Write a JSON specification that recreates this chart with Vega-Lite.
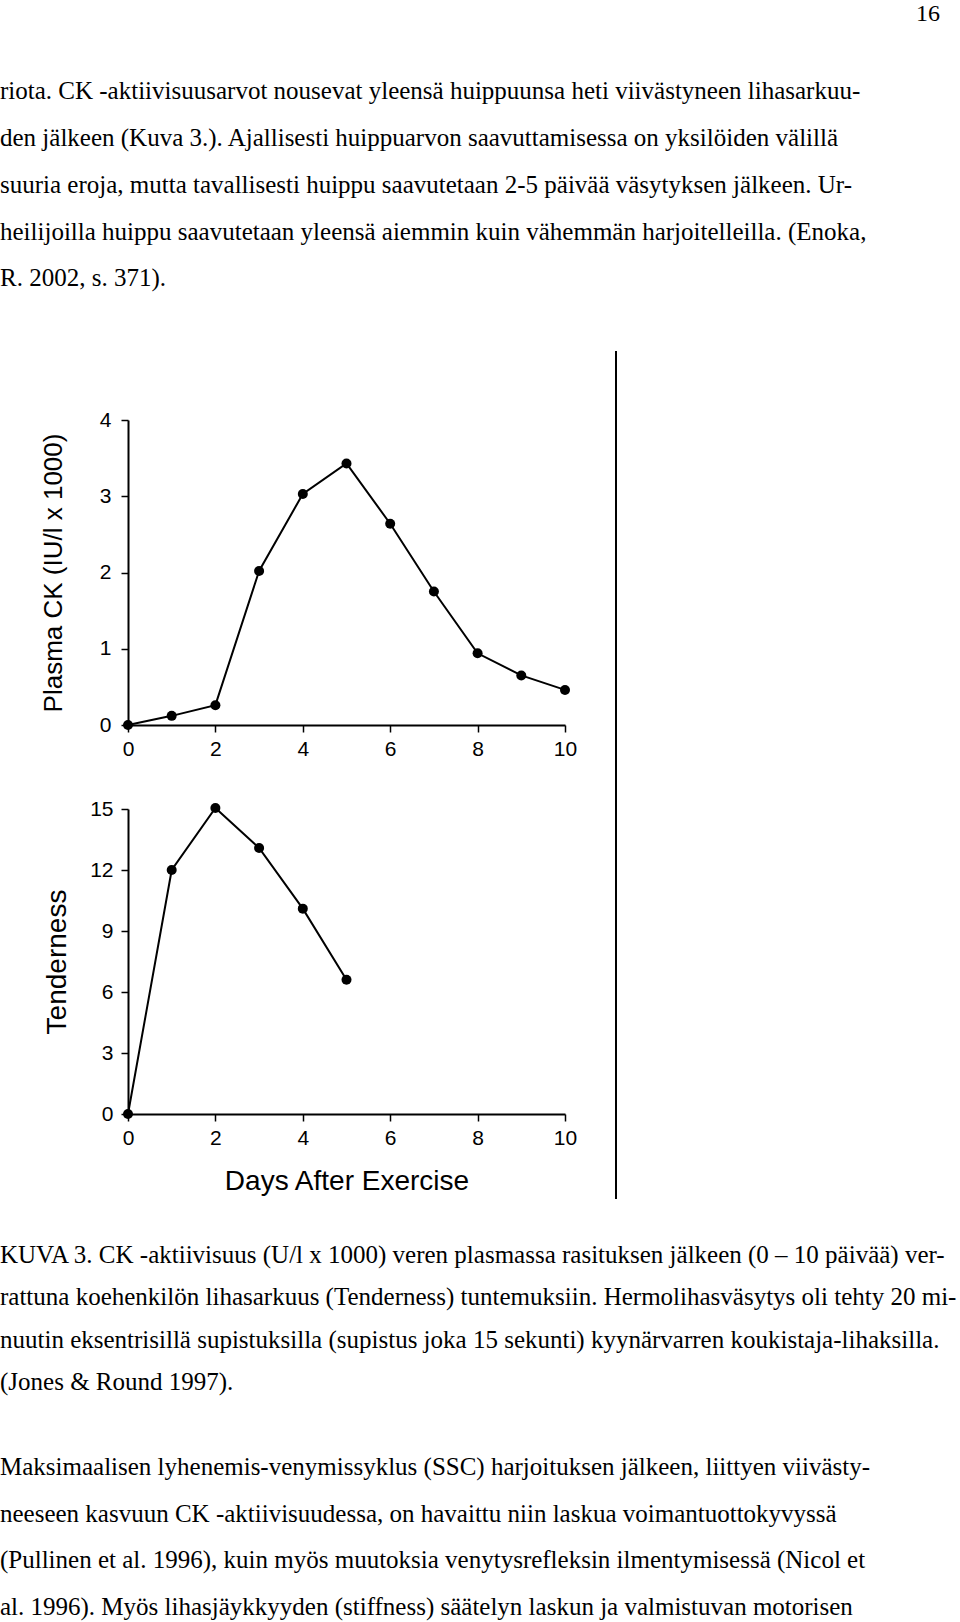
{
  "$schema": "https://vega.github.io/schema/vega-lite/v6.json",
  "background": "white",
  "padding": 0,
  "spacing": 0,
  "config": {
    "view": {"stroke": null},
    "text": {"font": "Liberation Serif", "fontSize": 25, "color": "#000"},
    "axis": {
      "domainColor": "#000", "domainWidth": 2, "tickColor": "#000", "tickWidth": 1.5, "tickSize": 7,
      "labelColor": "#000", "labelFont": "Liberation Sans", "labelFontSize": 21,
      "titleColor": "#000", "titleFont": "Liberation Sans", "titleFontWeight": "normal",
      "grid": false, "labelOverlap": false
    }
  },
  "vconcat": [
    {
      "width": 940,
      "height": 351,
      "layer": [
        {
          "data": {"values": [{"page": "16"}]},
          "mark": {"type": "text", "align": "right", "baseline": "top", "fontSize": 24},
          "encoding": {
            "x": {"datum": 1, "type": "quantitative", "scale": {"domain": [0, 1]}, "axis": null},
            "y": {"datum": -1.081, "type": "quantitative", "scale": {"domain": [-1.124, 6.384], "reverse": true, "nice": false, "zero": false}, "axis": null},
            "text": {"field": "page"}
          }
        },
        {
          "data": {"values": [
            {"line": 1, "text": "riota. CK -aktiivisuusarvot nousevat yleensä huippuunsa heti viivästyneen lihasarkuu-"},
            {"line": 2, "text": "den jälkeen (Kuva 3.). Ajallisesti huippuarvon saavuttamisessa on yksilöiden välillä"},
            {"line": 3, "text": "suuria eroja, mutta tavallisesti huippu saavutetaan 2-5 päivää väsytyksen jälkeen. Ur-"},
            {"line": 4, "text": "heilijoilla huippu saavutetaan yleensä aiemmin kuin vähemmän harjoitelleilla. (Enoka,"},
            {"line": 5, "text": "R. 2002, s. 371)."}
          ]},
          "mark": {"type": "text", "align": "left", "baseline": "alphabetic"},
          "encoding": {
            "x": {"datum": 0, "type": "quantitative", "scale": {"domain": [0, 1]}, "axis": null},
            "y": {"field": "line", "type": "quantitative", "scale": {"domain": [-1.124, 6.384], "reverse": true, "nice": false, "zero": false}, "axis": null},
            "text": {"field": "text"}
          }
        }
      ]
    },
    {
      "spacing": 38,
      "hconcat": [
        {"width": 1, "height": 20, "data": {"values": []}, "mark": "point"},
        {
          "spacing": 38,
          "vconcat": [
            {"width": 1, "height": 20, "data": {"values": []}, "mark": "point"},
            {
              "width": 437,
              "height": 305,
              "data": {"values": [
                {"day": 0, "ck": 0},
                {"day": 1, "ck": 0.12},
                {"day": 2, "ck": 0.26},
                {"day": 3, "ck": 2.02},
                {"day": 4, "ck": 3.03},
                {"day": 5, "ck": 3.43},
                {"day": 6, "ck": 2.64},
                {"day": 7, "ck": 1.75},
                {"day": 8, "ck": 0.94},
                {"day": 9, "ck": 0.65},
                {"day": 10, "ck": 0.46}
              ]},
              "encoding": {
                "x": {"field": "day", "type": "quantitative", "scale": {"domain": [0, 10], "nice": false},
                      "axis": {"values": [0, 2, 4, 6, 8, 10], "title": null, "labelFlush": false, "labelPadding": 6.5, "minExtent": 34.5, "maxExtent": 34.5}},
                "y": {"field": "ck", "type": "quantitative", "scale": {"domain": [0, 4], "nice": false},
                      "axis": {"values": [0, 1, 2, 3, 4], "title": "Plasma CK (IU/l x 1000)", "titleFontSize": 26, "titlePadding": 22, "labelPadding": 10, "minExtent": 40, "maxExtent": 40}}
              },
              "layer": [
                {"mark": {"type": "line", "color": "#000", "strokeWidth": 2}},
                {"mark": {"type": "point", "filled": true, "color": "#000", "size": 100, "opacity": 1}}
              ]
            },
            {
              "width": 437,
              "height": 305,
              "data": {"values": [
                {"day": 0, "tenderness": 0},
                {"day": 1, "tenderness": 12.0},
                {"day": 2, "tenderness": 15.05},
                {"day": 3, "tenderness": 13.08},
                {"day": 4, "tenderness": 10.1},
                {"day": 5, "tenderness": 6.6}
              ]},
              "encoding": {
                "x": {"field": "day", "type": "quantitative", "scale": {"domain": [0, 10], "nice": false},
                      "axis": {"values": [0, 2, 4, 6, 8, 10], "title": "Days After Exercise", "titleFontSize": 28, "titlePadding": 18.5, "labelFlush": false, "labelPadding": 6.5, "minExtent": 34.5, "maxExtent": 34.5}},
                "y": {"field": "tenderness", "type": "quantitative", "scale": {"domain": [0, 15], "nice": false},
                      "axis": {"values": [0, 3, 6, 9, 12, 15], "title": "Tenderness", "titleFontSize": 28, "titlePadding": 17, "labelPadding": 8, "minExtent": 40, "maxExtent": 40}}
              },
              "layer": [
                {"mark": {"type": "line", "color": "#000", "strokeWidth": 2}},
                {"mark": {"type": "point", "filled": true, "color": "#000", "size": 100, "opacity": 1}}
              ]
            }
          ]
        },
        {"width": 2, "height": 848, "data": {"values": []}, "mark": "point", "view": {"fill": "#000", "stroke": null}}
      ]
    },
    {
      "width": 940,
      "height": 423,
      "resolve": {"scale": {"y": "independent"}},
      "layer": [
        {
          "data": {"values": [
            {"line": 1, "text": "KUVA 3. CK -aktiivisuus (U/l x 1000) veren plasmassa rasituksen jälkeen (0 – 10 päivää) ver-"},
            {"line": 2, "text": "rattuna koehenkilön lihasarkuus (Tenderness) tuntemuksiin. Hermolihasväsytys oli tehty 20 mi-"},
            {"line": 3, "text": "nuutin eksentrisillä supistuksilla (supistus joka 15 sekunti) kyynärvarren koukistaja-lihaksilla."},
            {"line": 4, "text": "(Jones & Round 1997)."}
          ]},
          "mark": {"type": "text", "align": "left", "baseline": "alphabetic"},
          "encoding": {
            "x": {"datum": 0, "type": "quantitative", "scale": {"domain": [0, 1]}, "axis": null},
            "y": {"field": "line", "type": "quantitative", "scale": {"domain": [-0.513, 9.487], "reverse": true, "nice": false, "zero": false}, "axis": null},
            "text": {"field": "text"}
          }
        },
        {
          "data": {"values": [
            {"line": 1, "text": "Maksimaalisen lyhenemis-venymissyklus (SSC) harjoituksen jälkeen, liittyen viivästy-"},
            {"line": 2, "text": "neeseen kasvuun CK  -aktiivisuudessa, on havaittu niin laskua voimantuottokyvyssä"},
            {"line": 3, "text": "(Pullinen et al. 1996), kuin myös muutoksia venytysrefleksin ilmentymisessä (Nicol et"},
            {"line": 4, "text": "al. 1996). Myös lihasjäykkyyden (stiffness) säätelyn laskun ja valmistuvan motorisen"}
          ]},
          "mark": {"type": "text", "align": "left", "baseline": "alphabetic"},
          "encoding": {
            "x": {"datum": 0, "type": "quantitative", "scale": {"domain": [0, 1]}, "axis": null},
            "y": {"field": "line", "type": "quantitative", "scale": {"domain": [-4.91, 4.148], "reverse": true, "nice": false, "zero": false}, "axis": null},
            "text": {"field": "text"}
          }
        }
      ]
    }
  ]
}
